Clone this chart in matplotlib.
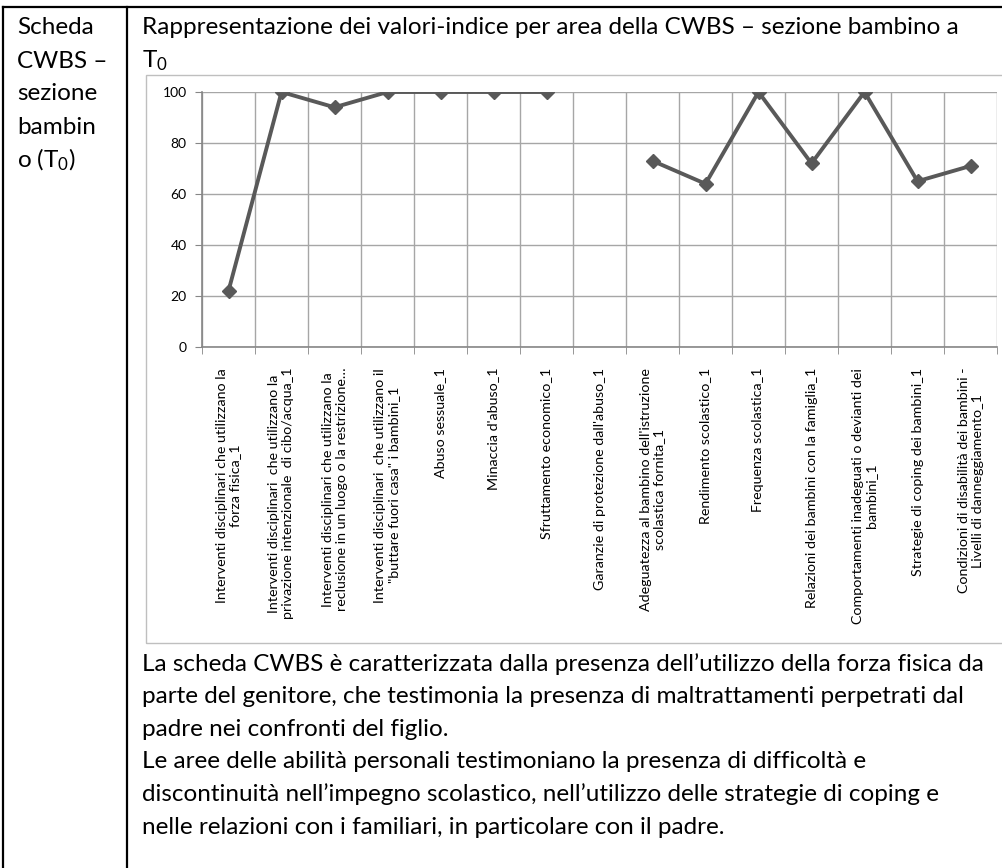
import numpy as np
import matplotlib
matplotlib.use("Agg")
import matplotlib.pyplot as plt
from matplotlib.lines import Line2D
from matplotlib.patches import Rectangle

FONT = "Lato"
plt.rcParams["font.family"] = [FONT, "DejaVu Sans"]
plt.rcParams["mathtext.fontset"] = "custom"
plt.rcParams["mathtext.rm"] = FONT
plt.rcParams["mathtext.it"] = FONT

# dati
aree = [
    "Interventi disciplinari che utilizzano la\nforza fisica_1",
    "Interventi disciplinari  che utilizzano la\nprivazione intenzionale  di cibo/acqua_1",
    "Interventi disciplinari che utilizzano la\nreclusione in un luogo o la restrizione…",
    "Interventi disciplinari  che utilizzano il\n\"buttare fuori casa\" i bambini_1",
    "Abuso sessuale_1",
    "Minaccia d'abuso_1",
    "Sfruttamento economico_1",
    "Garanzie di protezione dall'abuso_1",
    "Adeguatezza al bambino dell'istruzione\nscolastica fornita_1",
    "Rendimento scolastico_1",
    "Frequenza scolastica_1",
    "Relazioni dei bambini con la famiglia_1",
    "Comportamenti inadeguati o devianti dei\nbambini_1",
    "Strategie di coping dei bambini_1",
    "Condizioni di disabilità dei bambini -\nLivelli di danneggiamento_1",
]
valori = [22, 100, 94, 100, 100, 100, 100, np.nan, 73, 64, 100, 72, 100, 65, 71]
y_ticks = [0, 20, 40, 60, 80, 100]

titolo = ["Rappresentazione dei valori-indice per area della CWBS – sezione bambino a",
          "T$_0$"]
colonna = ["Scheda", "CWBS –", "sezione", "bambin", "o (T$_0$)"]
commento = [
    "La scheda CWBS è caratterizzata dalla presenza dell’utilizzo della forza fisica da",
    "parte del genitore, che testimonia la presenza di maltrattamenti perpetrati dal",
    "padre nei confronti del figlio.",
    "Le aree delle abilità personali testimoniano la presenza di difficoltà e",
    "discontinuità nell’impegno scolastico, nell’utilizzo delle strategie di coping e",
    "nelle relazioni con i familiari, in particolare con il padre.",
]

W, H = 1002, 868
fig = plt.figure(figsize=(W / 100, H / 100), dpi=100)

def fx(px):
    return px / W

def fy(py):
    return 1 - py / H

# bordi della tabella
for xs, ys in [((3, 3), (7, H)), ((127, 127), (7, H)), ((3, W), (7, 7))]:
    fig.add_artist(Line2D([fx(x) for x in xs], [fy(y) for y in ys],
                          color="black", lw=1.6))

# cornice del grafico
fig.add_artist(Rectangle((fx(146), fy(643)), fx(W + 20) - fx(146), fy(75) - fy(643),
                         transform=fig.transFigure, fill=False,
                         edgecolor="#BFBFBF", lw=1.0, clip_on=False))

# testi
FS = 17.5
for i, t in enumerate(colonna):
    fig.text(fx(17), fy(28 + i * 33), t, fontsize=FS, va="center", ha="left")
for i, t in enumerate(titolo):
    fig.text(fx(142), fy(28 + i * 33), t, fontsize=FS, va="center", ha="left")
for i, t in enumerate(commento):
    fig.text(fx(142), fy(664 + i * 32.6), t, fontsize=FS, va="center", ha="left")

ax = fig.add_axes([fx(202), fy(347), fx(997) - fx(202), fy(92) - fy(347)])
x = np.arange(len(aree))
ax.plot(x, valori, color="#595959", lw=2.8, marker="D", markersize=7,
        markerfacecolor="#595959", markeredgecolor="#595959", zorder=3)

ax.set_xlim(-0.5, len(aree) - 0.5)
ax.set_ylim(0, 100)
ax.set_yticks(y_ticks)
ax.set_xticks(x)
ax.set_xticklabels(aree, rotation=90, ha="center", va="top",
                   multialignment="center", fontsize=10.3)
ax.set_xticks(np.arange(-0.5, len(aree)), minor=True)
ax.tick_params(axis="x", which="major", length=0, pad=15)
ax.tick_params(axis="x", which="minor", length=5, color="#868686")
ax.tick_params(axis="y", length=5, color="#868686", labelsize=10, pad=6)
ax.grid(True, axis="y", color="#A6A6A6", lw=1.0)
ax.grid(True, axis="x", which="minor", color="#A6A6A6", lw=1.0)
ax.set_axisbelow(True)
for s in ["top", "right"]:
    ax.spines[s].set_visible(False)
for s in ["left", "bottom"]:
    ax.spines[s].set_color("#868686")
    ax.spines[s].set_linewidth(1.2)

fig.savefig("out.png", dpi=100)
